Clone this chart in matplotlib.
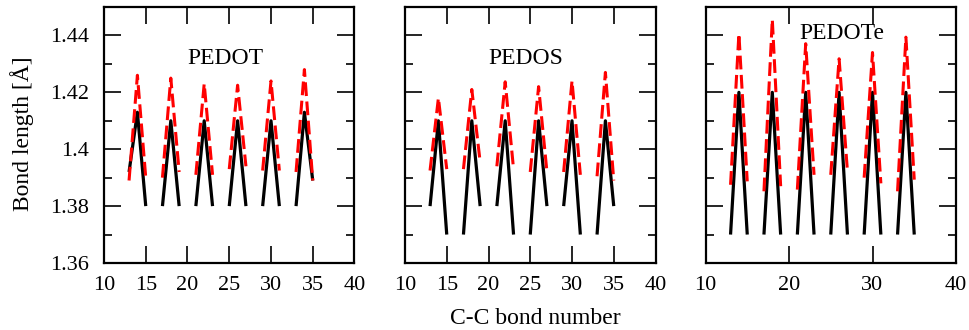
import numpy as np
import matplotlib.pyplot as plt
from matplotlib.ticker import MultipleLocator

plt.rcParams['font.family'] = ['Liberation Serif', 'DejaVu Serif']

#===========================================
# bond numbers (gaps between rings left as NaN)
bond = [13, 14, 15, 16, 17, 18, 19, 20, 21, 22, 23, 24, 25, 26, 27, 28,
        29, 30, 31, 32, 33, 34, 35]
nan = np.nan

pedot_black = [1.392, 1.413, 1.380, nan, 1.380, 1.410, 1.380, nan, 1.380, 1.410,
               1.380, nan, 1.380, 1.410, 1.380, nan, 1.380, 1.410, 1.380, nan,
               1.380, 1.413, 1.389]
pedot_red = [1.389, 1.426, 1.390, nan, 1.390, 1.425, 1.392, nan, 1.391, 1.423,
             1.391, nan, 1.393, 1.4225, 1.394, nan, 1.3925, 1.424, 1.3925, nan,
             1.392, 1.428, 1.389]

pedos_black = [1.380, 1.410, 1.370, nan, 1.370, 1.410, 1.380, nan, 1.380, 1.410,
               1.370, nan, 1.370, 1.410, 1.380, nan, 1.380, 1.410, 1.370, nan,
               1.370, 1.410, 1.380]
pedos_red = [1.3925, 1.418, 1.393, nan, 1.393, 1.421, 1.3955, nan, 1.394, 1.4237,
             1.393, nan, 1.392, 1.422, 1.392, nan, 1.392, 1.424, 1.391, nan,
             1.3905, 1.427, 1.389]

pedote_black = [1.370, 1.420, 1.370, nan, 1.370, 1.420, 1.370, nan, 1.370, 1.420,
                1.370, nan, 1.370, 1.420, 1.370, nan, 1.370, 1.420, 1.370, nan,
                1.370, 1.420, 1.370]
pedote_red = [1.3875, 1.4406, 1.3887, nan, 1.3852, 1.4456, 1.387, nan, 1.3858, 1.4371,
              1.391, nan, 1.391, 1.4318, 1.3922, nan, 1.390, 1.434, 1.388, nan,
              1.3852, 1.4394, 1.3893]

names = ["PEDOT", "PEDOS", "PEDOTe"]
label_pos = [(24.6, 1.432), (24.5, 1.432), (26.3, 1.4407)]
xtick_step = [5, 5, 10]

#===========================================
fig = plt.figure(figsize=(9.69, 3.3), dpi=100)
lefts = [104 / 969, 405 / 969, 705.5 / 969]
width = 250.5 / 969
bottom = 1 - 263 / 330
height = 256 / 330

blacks = [pedot_black, pedos_black, pedote_black]
reds = [pedot_red, pedos_red, pedote_red]

for i in range(3):
    ax = fig.add_axes([lefts[i], bottom, width, height])
    ax.plot(bond, blacks[i], color='black', lw=2.3, solid_capstyle='butt')
    ax.plot(bond, reds[i], color='red', lw=2.2, dashes=(4.5, 1.8))
    ax.set_xlim(10, 40)
    ax.set_ylim(1.36, 1.45)
    ax.xaxis.set_major_locator(MultipleLocator(xtick_step[i]))
    ax.yaxis.set_major_locator(MultipleLocator(0.02))
    ax.yaxis.set_minor_locator(MultipleLocator(0.01))
    ax.tick_params(which='both', direction='in', top=True, right=True,
                   labelsize=16, width=1.2)
    ax.tick_params(axis='x', pad=9)
    ax.tick_params(axis='y', pad=11)
    ax.tick_params(which='major', length=12)
    ax.tick_params(which='minor', length=6)
    for sp in ax.spines.values():
        sp.set_linewidth(1.6)
    if i == 0:
        ax.set_yticks([1.36, 1.38, 1.40, 1.42, 1.44])
        ax.set_yticklabels(["1.36", "1.38", "1.4", "1.42", "1.44"])
    else:
        ax.set_yticklabels([])
    ax.text(label_pos[i][0], label_pos[i][1], names[i], fontsize=17,
            ha='center', va='center')

fig.text(22 / 969, 1 - 134 / 330, "Bond length [Å]", fontsize=17,
         rotation=90, ha='center', va='center')
fig.text(535 / 969, 1 - 318 / 330, "C-C bond number", fontsize=17,
         ha='center', va='center')

plt.savefig("out.png", dpi=100)
